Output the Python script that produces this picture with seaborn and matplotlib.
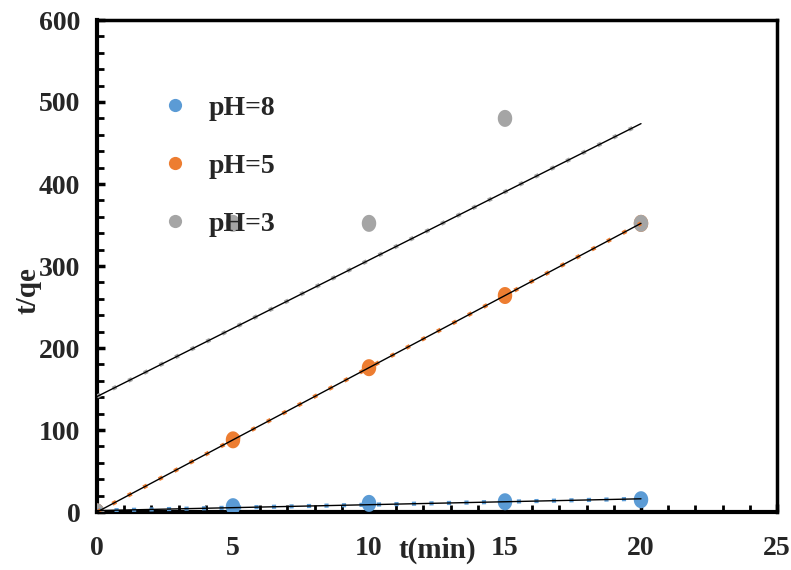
import numpy as np
import pandas as pd
import matplotlib
matplotlib.use("Agg")
import matplotlib.pyplot as plt
from matplotlib.lines import Line2D
from matplotlib.ticker import MultipleLocator
import seaborn as sns

# ---- data ----
t_min = [0, 5, 10, 15, 20]
ph8 = [0, 6.5, 10.5, 12.5, 15]
ph5 = [0, 88, 176, 264, 352]
ph3 = [0, 352, 352, 480, 352]
series_names = ["pH=8", "pH=5", "pH=3"]
series_vals = [ph8, ph5, ph3]
colors = ["#5B9BD5", "#ED7D31", "#A5A5A5"]
x_ticks = [0, 5, 10, 15, 20, 25]
y_ticks = [0, 100, 200, 300, 400, 500, 600]

df = pd.DataFrame({
    "t": t_min * 3,
    "tq": ph8 + ph5 + ph3,
    "series": [n for n in series_names for _ in t_min],
})

sns.set_theme(style="white")
plt.rcParams["font.family"] = ["Liberation Serif", "DejaVu Serif"]
plt.rcParams["font.weight"] = "bold"

fig = plt.figure(figsize=(7.91, 5.70), dpi=100)
ax = fig.add_axes([97 / 791, 58 / 570, 680 / 791, 492 / 570])

ell = [(0.85 * np.cos(a), np.sin(a)) for a in np.linspace(0, 2 * np.pi, 48)]
sns.scatterplot(data=df, x="t", y="tq", hue="series", palette=dict(zip(series_names, colors)),
                marker=ell, s=150, linewidth=0, ax=ax, legend=False, zorder=3)

# trend lines (least-squares fits)
xs = np.array([0, 20], dtype=float)
for vals, c in zip(series_vals, colors):
    k, b = np.polyfit(t_min, vals, 1)
    ax.plot(xs, k * xs + b, color=c, lw=3.0, linestyle=(0, (1.0, 3.2)), zorder=4)
    ax.plot(xs, k * xs + b, color="black", lw=1.0, zorder=5)

ax.set_xlim(0, 25)
ax.set_ylim(0, 600)
ax.set_xticks(x_ticks)
ax.set_yticks(y_ticks)
ax.xaxis.set_minor_locator(MultipleLocator(1))
ax.yaxis.set_minor_locator(MultipleLocator(20))
ax.tick_params(which="major", direction="in", length=6, width=2.5, labelsize=20,
               color="black")
ax.tick_params(which="minor", direction="in", length=5, width=2.0, color="black")
ax.tick_params(axis="x", which="both", bottom=True, pad=17)
ax.tick_params(axis="y", which="both", left=True, pad=12)
for lab in ax.get_xticklabels() + ax.get_yticklabels():
    lab.set_fontweight("bold")

for side in ["left", "bottom"]:
    ax.spines[side].set_linewidth(3)
    ax.spines[side].set_color("black")
for side in ["top", "right"]:
    ax.spines[side].set_linewidth(2.5)
    ax.spines[side].set_color("black")

ax.set_xlabel("t(min)", fontsize=21, fontweight="bold")
ax.set_ylabel("t/qe", fontsize=21, fontweight="bold")
ax.xaxis.set_label_coords(0.5, -0.05)
ax.yaxis.set_label_coords(-0.082, 0.45)

handles = [Line2D([], [], marker="o", linestyle="none", markersize=9.5,
                  markerfacecolor=c, markeredgewidth=0) for c in colors]
leg = ax.legend(handles, series_names, loc="upper left", bbox_to_anchor=(0.058, 0.897),
                frameon=False, prop={"family": "Liberation Serif", "weight": "bold", "size": 20},
                labelspacing=1.17, handletextpad=0.7, handlelength=1.0)
leg.set_zorder(10)

fig.savefig("out.png", dpi=100)
